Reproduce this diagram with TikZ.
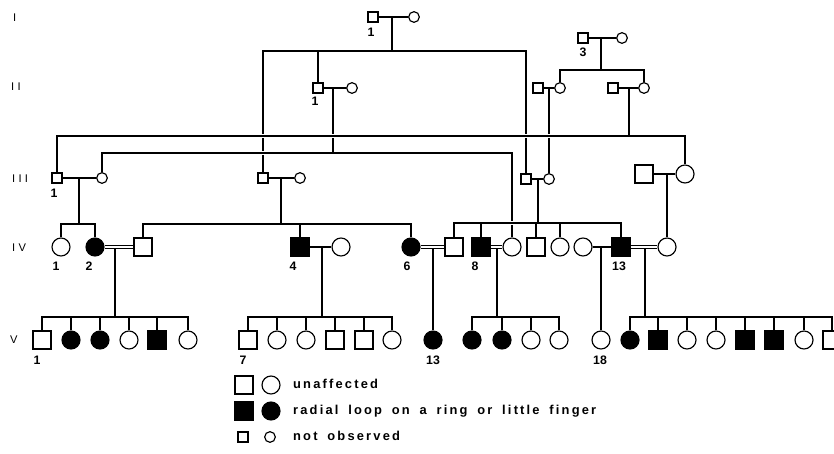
\documentclass[tikz,border=0pt]{standalone}
\usepackage{fontspec}
\setmainfont{Liberation Sans}
\newfontfamily\keyfont[LetterSpace=17,WordSpace=1.7]{Liberation Sans}
\usetikzlibrary{backgrounds}

\begin{document}
\begin{tikzpicture}[
  x=0.03cm, y=-0.03cm,
  lnk/.style={line width=1pt},
  over/.style={lnk,preaction={draw=white,line width=4pt}},
  dbl/.style={line width=0.7pt,double,double distance=1.8pt},
  male/.style={draw,rectangle,fill=white,line width=1pt,minimum size=0.54cm,inner sep=0pt},
  female/.style={male,circle},
  maleA/.style={male,fill=black},
  femaleA/.style={female,fill=black},
  maleS/.style={male,minimum size=0.3cm},
  femaleS/.style={female,minimum size=0.32cm},
  num/.style={font=\fontsize{10.5}{12}\selectfont\bfseries},
  gen/.style={font=\fontsize{9.5}{11}\selectfont\addfontfeatures{LetterSpace=30},anchor=west},
  key/.style={font=\keyfont\bfseries\fontsize{11}{13}\selectfont,anchor=west,text height=1.6ex,text depth=0.4ex},
]
\useasboundingbox (0,0) rectangle (834,454);

% generation labels
\node[gen] (gI) at (9,18) {I};
\node[gen] (gII) at (7,87) {II};
\node[gen] (gIII) at (8,179) {III};
\node[gen] (gIV) at (8,248) {IV};
\node[gen] (gV) at (6,340) {V};

% generations I to III
\node[maleS] (I1) at (373,17) {};
\node[femaleS] (I1w) at (414,17) {};
\node[maleS] (I3) at (583,38) {};
\node[femaleS] (I3w) at (622,38) {};
\node[maleS] (II1) at (318,88) {};
\node[femaleS] (II1w) at (352,88) {};
\node[maleS] (IIb) at (538,88) {};
\node[femaleS] (IIbw) at (560,88) {};
\node[maleS] (IIc) at (613,88) {};
\node[femaleS] (IIcw) at (644,88) {};
\node[maleS] (III1) at (57,178) {};
\node[femaleS] (III1w) at (102,178) {};
\node[maleS] (IIIb) at (263,178) {};
\node[femaleS] (IIIbw) at (300,178) {};
\node[maleS] (IIIc) at (526,179) {};
\node[femaleS] (IIIcw) at (549,179) {};
\node[male] (IIId) at (644,174) {};
\node[female] (IIIdw) at (685,174) {};

% generation IV
\node[female] (IV1) at (61,247) {};
\node[femaleA] (IV2) at (95,247) {};
\node[male] (IV3) at (143,247) {};
\node[maleA] (IV4) at (300,247) {};
\node[female] (IV4w) at (341,247) {};
\node[femaleA] (IV6) at (411,247) {};
\node[male] (IV7) at (454,247) {};
\node[maleA] (IV8) at (481,247) {};
\node[female] (IV8w) at (512,247) {};
\node[male] (IV10) at (536,247) {};
\node[female] (IV11) at (560,247) {};
\node[female] (IV13w) at (583,247) {};
\node[maleA] (IV13) at (621,247) {};
\node[female] (IV14) at (667,247) {};

% generation V
\foreach \x/\s [count=\i] in {42/male,71/femaleA,100/femaleA,129/female,157/maleA,188/female}
  \node[\s] (Va\i) at (\x,340) {};
\foreach \x/\s [count=\i] in {248/male,277/female,306/female,335/male,364/male,392/female}
  \node[\s] (Vb\i) at (\x,340) {};
\node[femaleA] (Vc) at (433,340) {};
\foreach \x/\s [count=\i] in {472/femaleA,502/femaleA,531/female,559/female}
  \node[\s] (Vd\i) at (\x,340) {};
\node[female] (Ve) at (601,340) {};
\foreach \x/\s [count=\i] in {630/femaleA,658/maleA,687/female,716/female,745/maleA,774/maleA,804/female,832/male}
  \node[\s] (Vf\i) at (\x,340) {};

% numbers
\node[num] (nI1) at (371,32) {1};
\node[num] (nI3) at (583,52) {3};
\node[num] (nII1) at (315,101) {1};
\node[num] (nIII1) at (54,193) {1};
\node[num] (nIV1) at (56,266) {1};
\node[num] (nIV2) at (89,266) {2};
\node[num] (nIV4) at (293,266) {4};
\node[num] (nIV6) at (407,266) {6};
\node[num] (nIV8) at (475,266) {8};
\node[num] (nIV13) at (619,266) {13};
\node[num] (nV1) at (37,360) {1};
\node[num] (nV7) at (243,360) {7};
\node[num] (nV13) at (433,360) {13};
\node[num] (nV18) at (600,360) {18};

% key
\node[male] (kU) at (244,385) {};
\node[female] (kUw) at (271,385) {};
\node[maleA] (kA) at (244,411) {};
\node[femaleA] (kAw) at (271,411) {};
\node[maleS] (kN) at (243,437) {};
\node[femaleS] (kNw) at (270,437) {};
\node[key] (tU) at (289,385) {unaffected};
\node[key] (tA) at (289,411) {radial loop on a ring or little finger};
\node[key] (tN) at (289,437) {not observed};

% marriage and sibship points
\coordinate (mI1) at (392,17);   \coordinate (sI1) at (392,51);
\coordinate (mI3) at (601,38);   \coordinate (sI3) at (601,70);
\coordinate (mII1) at (333,88);  \coordinate (sII1) at (333,153);
\coordinate (mIIb) at (549,88);
\coordinate (mIIc) at (629,88);  \coordinate (sIIc) at (629,136);
\coordinate (mIII1) at (79,178); \coordinate (sIII1) at (79,224);
\coordinate (mIIIb) at (281,178); \coordinate (sIIIb) at (281,224);
\coordinate (mIIIc) at (538,179); \coordinate (sIIIc) at (538,223);
\coordinate (mIIId) at (667,174);
\coordinate (mIV2) at (115,248.5); \coordinate (sIV2) at (115,317);
\coordinate (mIV4) at (322,247); \coordinate (sIV4) at (322,317);
\coordinate (mIV6) at (433,248.5);
\coordinate (mIV8) at (497,248.5); \coordinate (sIV8) at (497,317);
\coordinate (mIV13w) at (601,247);
\coordinate (mIV13) at (645,248.5); \coordinate (sIV13) at (645,317);

\begin{pgfonlayer}{background}
\draw[lnk] (mI1) -- (sI1) (IIIb) |- (sI1) -| (IIIc) (II1) |- (sI1);
\draw[lnk] (mIIb) -- (IIIcw);
\draw[lnk] (mI3) -- (sI3) (IIbw) |- (sI3) -| (IIcw);
\draw[over] (mII1) -- (sII1) (III1w) |- (sII1) -| (IV8w);
\draw[over] (mIIc) -- (sIIc) (III1) |- (sIIc) -| (IIIdw);
\draw[over] (mIIIc) -- (sIIIc) (IV7) |- (sIIIc) -| (IV13) (IV8) |- (sIIIc) (IV10) |- (sIIIc) (IV11) |- (sIIIc);
\draw[lnk] (mIII1) -- (sIII1) (IV1) |- (sIII1) -| (IV2);
\draw[lnk] (mIIIb) -- (sIIIb) (IV3) |- (sIIIb) -| (IV6) (IV4) |- (sIIIb);
\draw[lnk] (mIIId) -- (IV14);
\draw[lnk] (mIV2) -- (sIV2);
\foreach \i in {1,...,6} \draw[lnk] (Va\i) |- (sIV2);
\draw[lnk] (mIV4) -- (sIV4);
\foreach \i in {1,...,6} \draw[lnk] (Vb\i) |- (sIV4);
\draw[lnk] (mIV6) -- (Vc);
\draw[lnk] (mIV8) -- (sIV8);
\foreach \i in {1,...,4} \draw[lnk] (Vd\i) |- (sIV8);
\draw[lnk] (mIV13w) -- (Ve);
\draw[lnk] (mIV13) -- (sIV13);
\foreach \i in {1,...,8} \draw[lnk] (Vf\i) |- (sIV13);
% marriages
\draw[lnk] (I1) -- (I1w) (I3) -- (I3w) (II1) -- (II1w) (IIb) -- (IIbw) (IIc) -- (IIcw);
\draw[lnk] (III1) -- (III1w) (IIIb) -- (IIIbw) (IIIc) -- (IIIcw) (IIId) -- (IIIdw);
\draw[lnk] (IV4) -- (IV4w) (IV13w) -- (IV13);
\draw[dbl] (IV2) -- (IV3) (IV6) -- (IV7) (IV8) -- (IV8w) (IV13) -- (IV14);
\end{pgfonlayer}
\end{tikzpicture}
\end{document}
